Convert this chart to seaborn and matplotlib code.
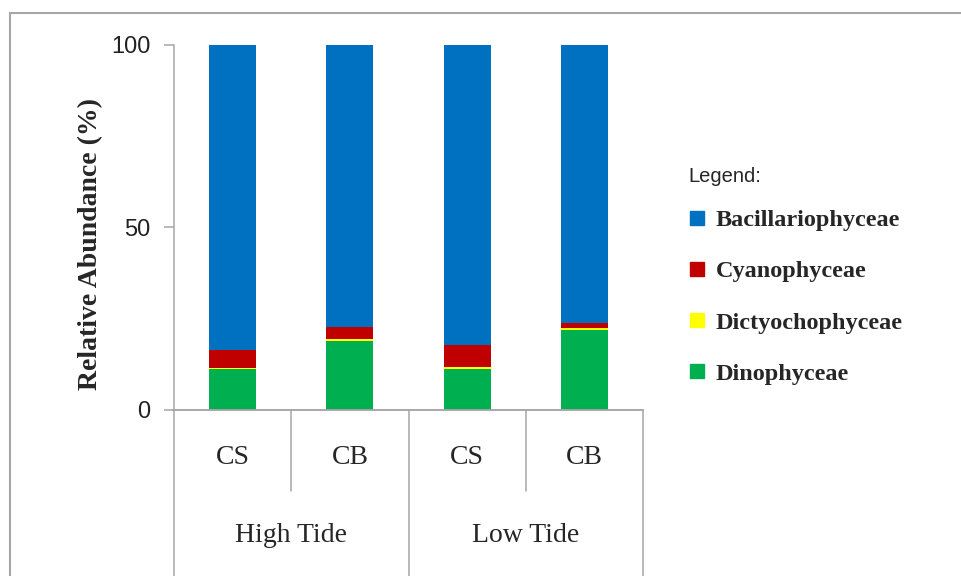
import pandas as pd
import matplotlib.pyplot as plt
import seaborn as sns
from matplotlib.lines import Line2D
from matplotlib.patches import Rectangle

# relative abundance (%), stacked bottom -> top
bars = ["High CS", "High CB", "Low CS", "Low CB"]
sites = ["CS", "CB", "CS", "CB"]
tides = ["High Tide", "Low Tide"]
dinophyceae = [11.1, 18.9, 11.1, 22.0]
dictyochophyceae = [0.5, 0.5, 0.6, 0.5]
cyanophyceae = [4.7, 3.3, 6.1, 1.3]
bacillariophyceae = [83.7, 77.3, 82.2, 76.2]

classes = ["Bacillariophyceae", "Cyanophyceae", "Dictyochophyceae", "Dinophyceae"]
colors = {"Bacillariophyceae": "#0070C0", "Cyanophyceae": "#C00000",
          "Dictyochophyceae": "#FFFF00", "Dinophyceae": "#00B050"}

df = pd.DataFrame({"bar": bars,
                   "Dinophyceae": dinophyceae,
                   "Dictyochophyceae": dictyochophyceae,
                   "Cyanophyceae": cyanophyceae,
                   "Bacillariophyceae": bacillariophyceae}).set_index("bar")
stack_order = ["Dinophyceae", "Dictyochophyceae", "Cyanophyceae", "Bacillariophyceae"]
tops = df[stack_order].cumsum(axis=1)

sns.set_style("white")
plt.rcParams["font.family"] = ["Liberation Serif", "DejaVu Serif"]

fig = plt.figure(figsize=(9.62, 5.76), dpi=100)
ax = fig.add_axes([0.1809, 0.2882, 0.4875, 0.6337])

gray = "#A6A6A6"
# draw tallest cumulative first so lower layers sit on top
for name in reversed(stack_order):
    sns.barplot(x=tops.index, y=tops[name].values, order=bars, color=colors[name],
                width=0.4, saturation=1, ax=ax, linewidth=0)

ax.set_xlim(-0.5, 3.5)
ax.set_ylim(0, 100)
ax.set_yticks([0, 50, 100])
ax.set_yticklabels(["0", "50", "100"], family="Liberation Sans", fontsize=17, color="#222222")
ax.tick_params(axis="y", direction="out", length=7, width=1.1, color=gray, pad=10, left=True)
ax.tick_params(axis="x", bottom=False, labelbottom=False)
ax.set_xlabel("")
ax.set_ylabel("Relative Abundance (%)", fontsize=20, fontweight="bold")
ax.yaxis.set_label_coords(-0.152, 0.455)
for s in ["top", "right"]:
    ax.spines[s].set_visible(False)
for s in ["left", "bottom"]:
    ax.spines[s].set_color(gray)
    ax.spines[s].set_linewidth(1.1)

# category table below the axis
xt = ax.get_xaxis_transform()
for xpos, depth in [(-0.5, -0.455), (0.5, -0.222), (1.5, -0.455), (2.5, -0.222), (3.5, -0.455)]:
    ax.plot([xpos, xpos], [0, depth], transform=xt, color=gray, lw=1.1, clip_on=False)
ax.plot([-0.52, 3.5], [0, 0], transform=xt, color=gray, lw=1.1, clip_on=False)
for i, s in enumerate(sites):
    ax.text(i, -0.13, s, transform=xt, ha="center", va="center", fontsize=20)
for j, t in enumerate(tides):
    ax.text(2 * j + 0.5, -0.345, t, transform=xt, ha="center", va="center", fontsize=20)

# legend
handles = [Line2D([], [], marker="s", ls="", markersize=10, color=colors[c]) for c in classes]
leg = fig.legend(handles, classes, loc="upper left", bbox_to_anchor=(0.71, 0.718),
                 frameon=False, title="Legend:", alignment="left",
                 prop={"family": "Liberation Serif", "weight": "bold", "size": 17.5},
                 title_fontproperties={"family": "Liberation Sans", "size": 14.5},
                 labelspacing=1.2, handletextpad=0.4, handlelength=0.75,
                 borderpad=0.2, borderaxespad=0)
leg._legend_box.sep = 16.5

# outer frame
fig.patches.append(Rectangle((10 / 962, -0.1), 1.2, 1 - 13 / 576 + 0.1, transform=fig.transFigure,
                             fill=False, edgecolor=gray, lw=1.5))

fig.savefig("out.png", dpi=100)
